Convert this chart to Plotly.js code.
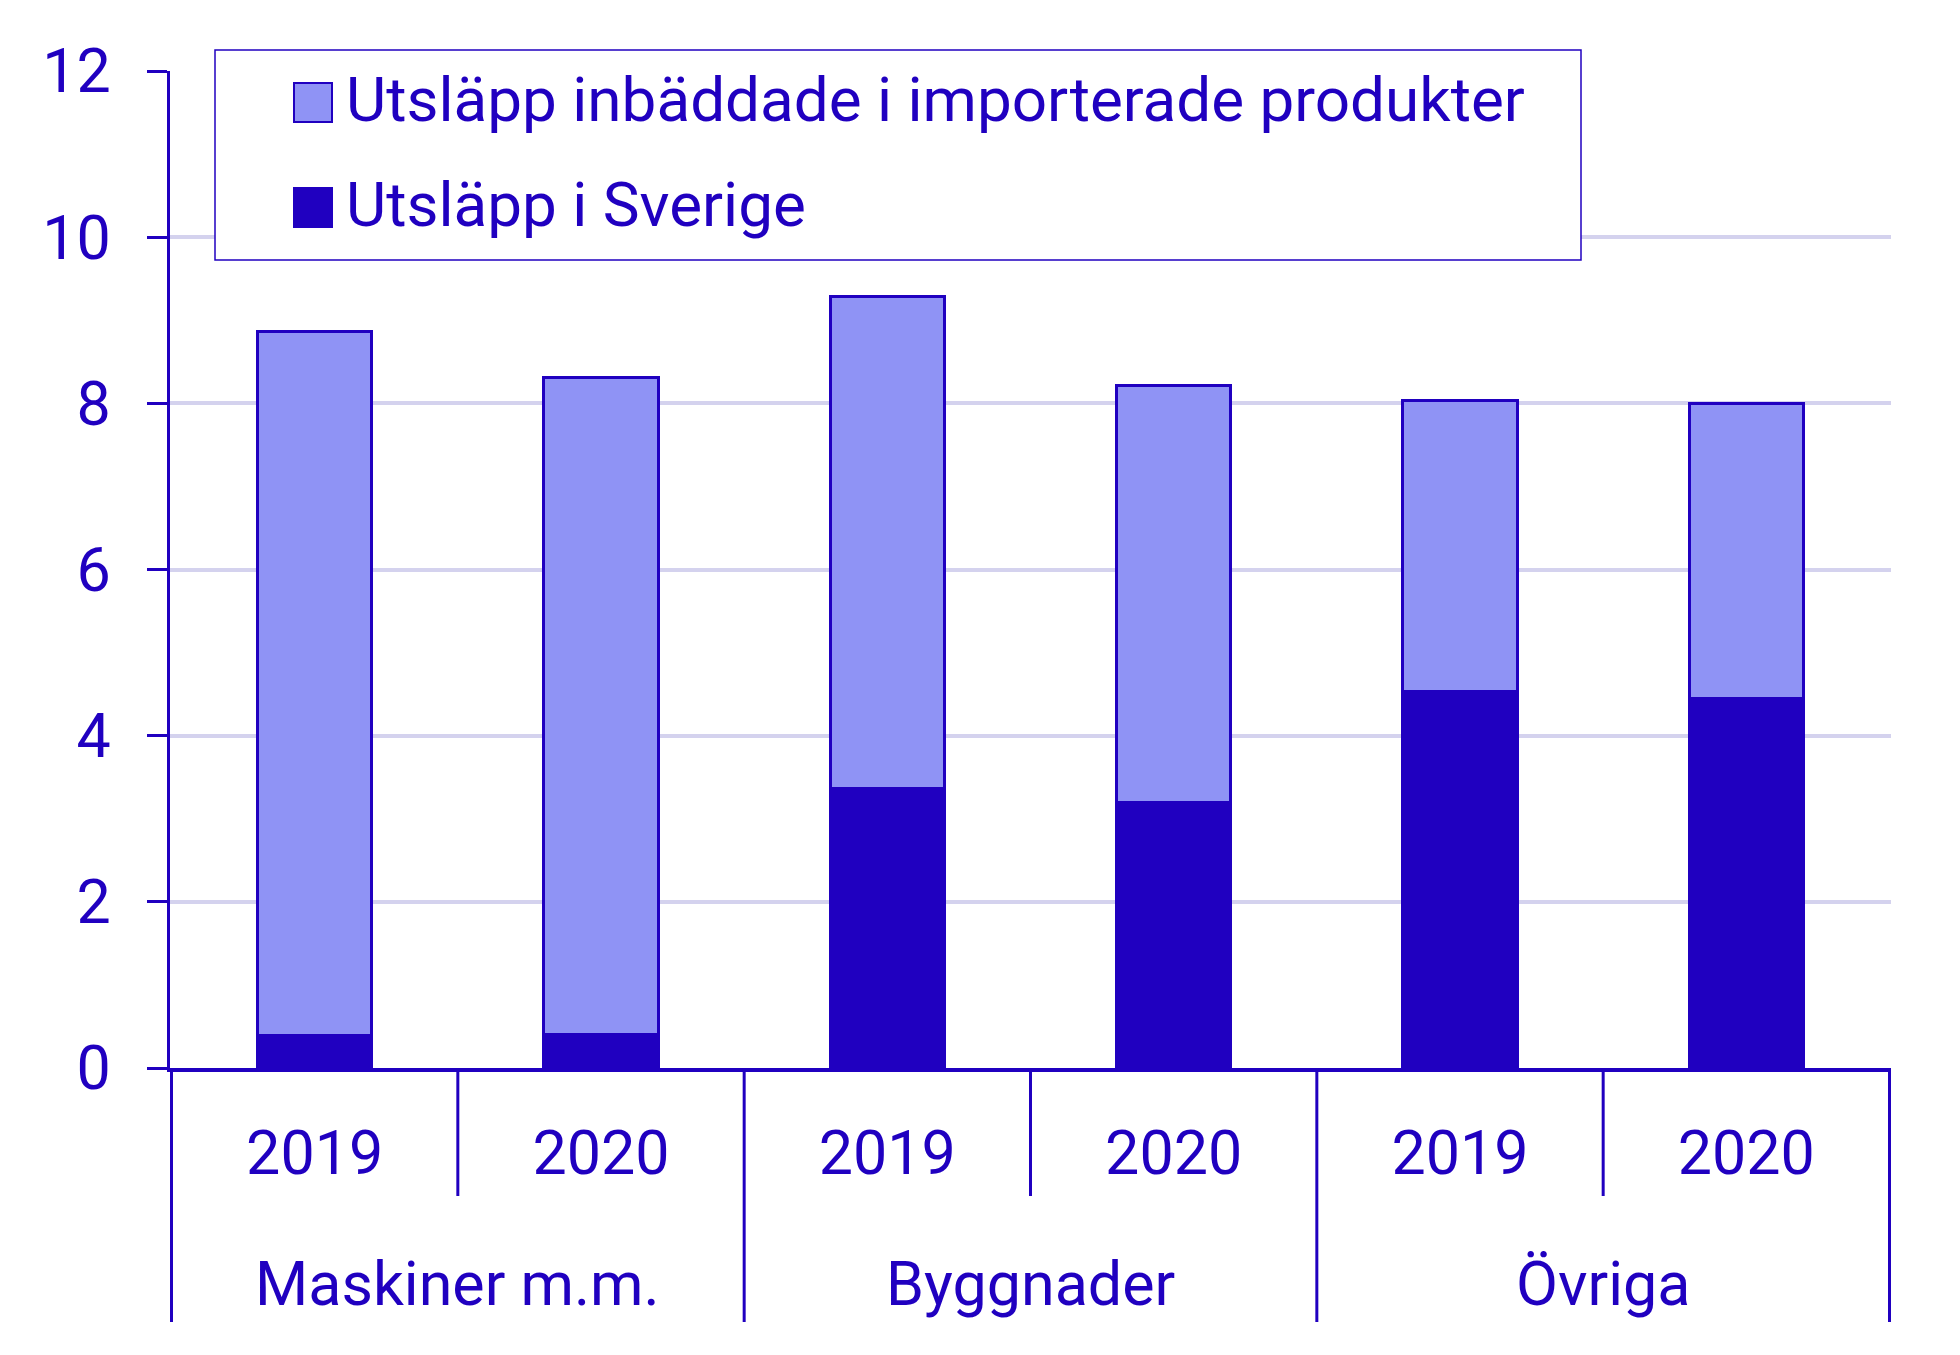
<!DOCTYPE html>
<html>
<head>
<meta charset="utf-8">
<script src="https://cdn.plot.ly/plotly-3.0.1.min.js"></script>
<style>html,body{margin:0;padding:0;background:#fff;}#chart{width:1960px;height:1355px;}</style>
</head>
<body>
<div id="chart"></div>
<script>
// ---- Data ----
const groups = ['Maskiner m.m.', 'Byggnader', 'Övriga'];
const years = ['2019', '2020'];
const seriesNames = ['Utsläpp inbäddade i importerade produkter', 'Utsläpp i Sverige'];
// Emissions in Sweden (bottom segment), per group and year
const sverige = [0.39, 0.40, 3.36, 3.19, 4.53, 4.45];
// Emissions embedded in imported products (top segment)
const importerade = [8.48, 7.91, 5.92, 5.03, 3.51, 3.55];
const yTicks = [0, 2, 4, 6, 8, 10, 12];

// ---- Styling ----
const DARK = '#2000c0';
const LIGHT = '#8f93f5';
const GRID = '#d4d2ee';
const FONT = 'Roboto, "Noto Sans", sans-serif';
const FS = 61;
const LEG_FS = 62;

const xIds = [];
const xYears = [];
groups.forEach(g => years.forEach(y => { xIds.push(g + ' ' + y); xYears.push(y); }));

const traces = [
  {type: 'bar', name: seriesNames[1], x: xIds, y: sverige,
   marker: {color: DARK, line: {color: DARK, width: 3}}, hoverinfo: 'x+y'},
  {type: 'bar', name: seriesNames[0], x: xIds, y: importerade,
   marker: {color: LIGHT, line: {color: DARK, width: 3}}, hoverinfo: 'x+y'}
];

// Plot area geometry (px)
const L = 170, R = 69, T = 71, B = 287;
const W = 1960, H = 1355;
const pw = W - L - R, ph = H - T - B;
const px = v => (v - L) / pw;          // page x -> paper x
const py = v => (H - B - v) / ph;       // page y -> paper y

const shapes = [];
const annotations = [];
// Dividers under the x axis
const n = xIds.length;
for (let i = 0; i <= n; i++) {
  const pos = i - 0.5;
  const isGroup = (i % years.length) === 0;
  shapes.push({type: 'line', xref: 'x', yref: 'paper', x0: pos, x1: pos,
    y0: 0, y1: isGroup ? py(1322) : py(1196), line: {color: DARK, width: 3}});
}
// Group labels
groups.forEach((g, gi) => {
  annotations.push({xref: 'x', yref: 'paper', x: gi * years.length + (years.length - 1) / 2,
    y: py(1284), text: g, showarrow: false, xanchor: 'center', yanchor: 'middle',
    font: {family: FONT, size: FS, color: DARK}});
});
// Custom legend
shapes.push({type: 'rect', xref: 'paper', yref: 'paper', x0: px(215), x1: px(1581), y0: py(260), y1: py(50),
  line: {color: DARK, width: 1.5}, fillcolor: 'rgba(255,255,255,1)', layer: 'above'});
const legendItems = [
  {name: seriesNames[0], color: LIGHT, top: 83, bot: 122},
  {name: seriesNames[1], color: DARK, top: 188, bot: 227}
];
legendItems.forEach(it => {
  shapes.push({type: 'rect', xref: 'paper', yref: 'paper', x0: px(294), x1: px(332), y0: py(it.bot), y1: py(it.top),
    line: {color: DARK, width: 2}, fillcolor: it.color, layer: 'above'});
  annotations.push({xref: 'paper', yref: 'paper', x: px(344), y: py((it.top + it.bot) / 2 - 3),
    text: it.name, showarrow: false, xanchor: 'left', yanchor: 'middle',
    font: {family: FONT, size: LEG_FS, color: DARK}});
});

const layout = {
  width: W, height: H,
  margin: {l: L, r: R, t: T, b: B, pad: 0},
  paper_bgcolor: '#ffffff', plot_bgcolor: '#ffffff',
  barmode: 'stack', bargap: 0.6,
  showlegend: false,
  font: {family: FONT, size: FS, color: DARK},
  xaxis: {
    type: 'category', tickmode: 'array', tickvals: xIds, ticktext: xYears,
    showline: true, linecolor: DARK, linewidth: 4, ticks: '',
    showgrid: false, zeroline: false, ticklabelstandoff: 29,
    tickfont: {family: FONT, size: FS, color: DARK}, fixedrange: true
  },
  yaxis: {
    range: [0, 12], tickmode: 'array', tickvals: yTicks,
    showline: true, linecolor: DARK, linewidth: 3,
    ticks: 'outside', ticklen: 20, tickwidth: 3, tickcolor: DARK,
    showgrid: true, gridcolor: GRID, gridwidth: 4, zeroline: false,
    ticklabelstandoff: 24,
    tickfont: {family: FONT, size: FS, color: DARK}, fixedrange: true
  },
  shapes: shapes,
  annotations: annotations
};

Plotly.newPlot('chart', traces, layout, {displayModeBar: false, staticPlot: true});
</script>
</body>
</html>
